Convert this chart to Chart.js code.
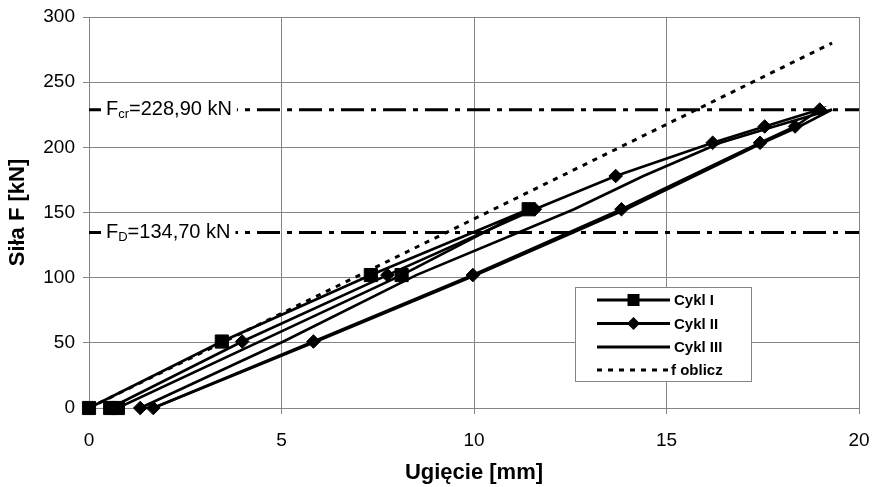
<!DOCTYPE html>
<html>
<head>
<meta charset="utf-8">
<script src="https://cdn.jsdelivr.net/npm/chart.js@4.4.1/dist/chart.umd.min.js"></script>
<style>
html,body{margin:0;padding:0;background:#ffffff;}
canvas{display:block;}
</style>
</head>
<body>
<canvas id="c" width="874" height="487"></canvas>
<script>
// ---- data ----
const seriesNames = ['Cykl I', 'Cykl II', 'Cykl III', 'f oblicz'];

const cyklI_x = [0, 3.45, 7.32, 11.42, 8.12, 0.75, 0.55];
const cyklI_y = [0, 51, 102, 152.5, 102, 0, 0];

const cyklII_x = [0.55, 3.98, 7.75, 11.58, 13.68, 16.2, 17.55, 18.98, 18.34, 17.43, 13.83, 9.97, 5.83, 1.67, 1.33];
const cyklII_y = [0, 51, 102, 152.5, 178, 203.5, 216, 229, 216, 203.5, 152.5, 102, 51, 0, 0];

const cyklIII_x = [1.33, 5.05, 8.5, 12.6, 14.4, 16.4, 17.8, 19.3, 18.45, 17.5, 13.95, 10.05, 5.9, 1.67];
const cyklIII_y = [0, 51, 102, 152.5, 178, 203.5, 216, 229, 216, 203.5, 152.5, 102, 51, 0];

const fOblicz_x = [0, 19.3];
const fOblicz_y = [0, 280];

const F_CR = 228.9;
const F_D = 134.7;
const refLabels = [
  { value: F_CR, main: 'F', sub: 'cr', rest: '=228,90 kN' },
  { value: F_D,  main: 'F', sub: 'D',  rest: '=134,70 kN' }
];

const xTicks = [0, 5, 10, 15, 20];
const yTicks = [0, 50, 100, 150, 200, 250, 300];
const xTitle = 'Ugięcie [mm]';
const yTitle = 'Siła F [kN]';

// ---- helpers ----
const zip = (xs, ys) => xs.map((x, i) => ({ x: x, y: ys[i] }));
const FONT = "'Liberation Sans', Arial, Helvetica, sans-serif";
const GRID = '#858585';

const refData = (v) => [{ x: xTicks[0], y: v }, { x: xTicks[xTicks.length - 1], y: v }];

// ---- plugins ----
const refLabelPlugin = {
  id: 'refLabels',
  afterDatasetsDraw(chart) {
    const ctx = chart.ctx, ys = chart.scales.y, area = chart.chartArea;
    ctx.save();
    refLabels.forEach(l => {
      const y = ys.getPixelForValue(l.value);
      const x0 = area.left + 17;
      ctx.font = '20px ' + FONT;
      const wMain = ctx.measureText(l.main).width;
      const wRest = ctx.measureText(l.rest).width;
      ctx.font = '13px ' + FONT;
      const wSub = ctx.measureText(l.sub).width;
      const total = wMain + wSub + wRest;
      ctx.fillStyle = '#ffffff';
      ctx.fillRect(x0 - 5, y - 13, total + 10, 27);
      ctx.fillStyle = '#000000';
      ctx.textBaseline = 'middle';
      ctx.textAlign = 'left';
      ctx.font = '20px ' + FONT;
      ctx.fillText(l.main, x0, y);
      ctx.font = '13px ' + FONT;
      ctx.fillText(l.sub, x0 + wMain, y + 5);
      ctx.font = '20px ' + FONT;
      ctx.fillText(l.rest, x0 + wMain + wSub, y);
    });
    ctx.restore();
  }
};

const legendPlugin = {
  id: 'boxLegend',
  afterDraw(chart) {
    const ctx = chart.ctx;
    const box = { l: 575.5, t: 287.5, r: 751.5, b: 381.5 };
    ctx.save();
    ctx.fillStyle = '#ffffff';
    ctx.fillRect(box.l, box.t, box.r - box.l, box.b - box.t);
    ctx.strokeStyle = GRID;
    ctx.lineWidth = 1;
    ctx.strokeRect(box.l, box.t, box.r - box.l, box.b - box.t);
    const rows = [300, 323.5, 347, 370];
    chart.data.datasets.slice(0, 4).forEach((ds, i) => {
      const y = rows[i];
      ctx.strokeStyle = '#000';
      ctx.lineWidth = 3;
      ctx.setLineDash(ds.borderDash || []);
      ctx.beginPath();
      ctx.moveTo(597, y);
      ctx.lineTo(670, y);
      ctx.stroke();
      ctx.setLineDash([]);
      ctx.fillStyle = '#000';
      if (ds.pointStyle === 'rect') {
        ctx.fillRect(633.5 - 6, y - 6, 12, 12);
      } else if (ds.pointStyle === 'rectRot' && ds.pointRadius > 0) {
        ctx.beginPath();
        ctx.moveTo(633.5, y - 6.5);
        ctx.lineTo(640, y);
        ctx.lineTo(633.5, y + 6.5);
        ctx.lineTo(627, y);
        ctx.closePath();
        ctx.fill();
      }
      ctx.font = 'bold 15px ' + FONT;
      ctx.textBaseline = 'middle';
      ctx.textAlign = 'left';
      ctx.fillText(ds.label, i === 3 ? 671 : 674, y + 1);
    });
    ctx.restore();
  }
};

// ---- chart ----
const lineBase = { showLine: true, borderColor: '#000', backgroundColor: '#000', borderWidth: 2.6, clip: false, tension: 0 };

new Chart(document.getElementById('c').getContext('2d'), {
  type: 'scatter',
  data: {
    datasets: [
      Object.assign({}, lineBase, { label: seriesNames[0], data: zip(cyklI_x, cyklI_y), pointStyle: 'rect', pointRadius: 9.3, pointBorderWidth: 1 }),
      Object.assign({}, lineBase, { label: seriesNames[1], data: zip(cyklII_x, cyklII_y), pointStyle: 'rectRot', pointRadius: 6.8, pointBorderWidth: 1 }),
      Object.assign({}, lineBase, { label: seriesNames[2], data: zip(cyklIII_x, cyklIII_y), pointStyle: 'rectRot', pointRadius: 0 }),
      Object.assign({}, lineBase, { label: seriesNames[3], data: zip(fOblicz_x, fOblicz_y), pointRadius: 0, borderWidth: 3, borderDash: [5, 6] }),
      Object.assign({}, lineBase, { label: 'Fcr', data: refData(F_CR), pointRadius: 0, borderWidth: 3, borderDash: [23, 7, 5, 7] }),
      Object.assign({}, lineBase, { label: 'FD', data: refData(F_D), pointRadius: 0, borderWidth: 3, borderDash: [23, 7, 5, 7] })
    ]
  },
  options: {
    responsive: false,
    animation: false,
    events: [],
    layout: { padding: { left: 0, top: 17, right: 15, bottom: 0 } },
    plugins: { legend: { display: false }, tooltip: { enabled: false } },
    scales: {
      x: {
        type: 'linear', min: xTicks[0], max: xTicks[xTicks.length - 1],
        afterBuildTicks: s => { s.ticks = xTicks.map(v => ({ value: v })); },
        afterFit: s => { s.height = 79; s.paddingLeft = 0; s.paddingRight = 0; },
        ticks: { color: '#000', font: { family: FONT, size: 19 }, padding: 15 },
        grid: { color: GRID, lineWidth: 1, tickLength: 6 },
        border: { color: GRID, width: 1 },
        title: { display: true, text: xTitle, color: '#000', font: { family: FONT, size: 22, weight: 'bold' }, padding: { top: 1, bottom: 1 } }
      },
      y: {
        type: 'linear', min: yTicks[0], max: yTicks[yTicks.length - 1],
        afterBuildTicks: s => { s.ticks = yTicks.map(v => ({ value: v })); },
        afterFit: s => { s.width = 89; s.paddingTop = 0; s.paddingBottom = 0; },
        ticks: { color: '#000', font: { family: FONT, size: 19 }, padding: 8 },
        grid: { color: GRID, lineWidth: 1, tickLength: 6 },
        border: { color: GRID, width: 1 },
        title: { display: true, text: yTitle, color: '#000', font: { family: FONT, size: 22, weight: 'bold' }, padding: { top: 5, bottom: 5 } }
      }
    }
  },
  plugins: [refLabelPlugin, legendPlugin]
});
</script>
</body>
</html>
